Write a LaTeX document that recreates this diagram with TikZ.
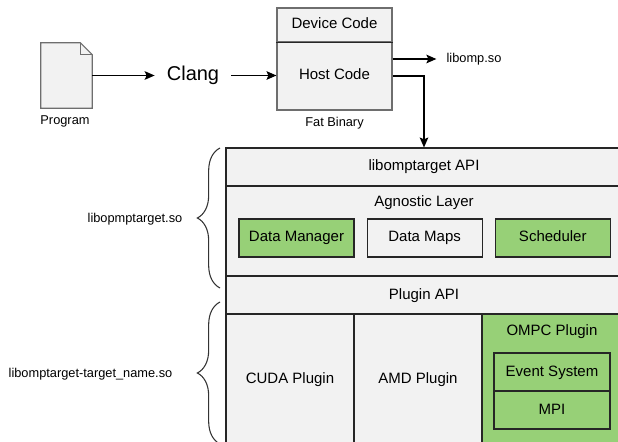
\documentclass[tikz,border=0pt]{standalone}
\usepackage{fontspec}
\setmainfont{Liberation Sans}
\usetikzlibrary{positioning,arrows.meta,decorations.pathreplacing}
\definecolor{boxgray}{HTML}{F2F2F2}
\definecolor{ompcgreen}{HTML}{97D077}
\definecolor{edgegray}{HTML}{6E6E6E}
\begin{document}
\begin{tikzpicture}[x=0.75pt,y=-0.75pt,
  box/.style={draw=black!85,line width=0.85pt,fill=boxgray,inner sep=0pt,text height=8.2pt,text depth=2.2pt,font=\fontsize{11.25}{13}\selectfont},
  layer/.style={box,minimum width=297pt,minimum height=28.5pt},
  part/.style={box,minimum width=86.25pt,minimum height=28.5pt},
  green/.style={fill=ompcgreen},
  small/.style={font=\fontsize{9.6}{11}\selectfont},
  arr/.style={-{Stealth[length=7.5pt,width=6.5pt,inset=1.5pt]},line width=0.9pt},
  brace/.style={decorate,decoration={brace,amplitude=17pt},draw=black!80,line width=0.8pt}]
\useasboundingbox (0,0) rectangle (618,442);

% compile step
\node[minimum width=38.25pt,minimum height=48.75pt] (prog) at (66.5,75.5) {};
\draw[edgegray,fill=boxgray,line width=0.8pt] (prog.south west) -- (prog.north west) -- ([xshift=-9pt]prog.north east) -- ([yshift=-9pt]prog.north east) -- (prog.south east) -- cycle;
\draw[edgegray,line width=0.8pt] ([xshift=-9pt]prog.north east) |- ([yshift=-9pt]prog.north east);
\node[small] (proglbl) at (65,121) {Program};
\node[font=\fontsize{15}{17}\selectfont,inner xsep=9pt] (clang) at (193,75.5) {Clang};
\node[box,draw=edgegray,minimum width=86.25pt,minimum height=25.5pt] (device) at (334.5,25) {Device Code};
\node[box,draw=edgegray,minimum width=86.25pt,minimum height=51pt] (host) at (334.5,76) {Host Code};
\draw[black!85,line width=0.85pt] (device.south west) -- (device.south east);
\node[small] (fatlbl) at (334.5,123) {Fat Binary};
\node[small,inner xsep=7.5pt] (libomp) at (474,59) {libomp.so};

% libomptarget
\node[layer] (api) at (424,167) {libomptarget API};
\node[layer,minimum height=67.5pt] (agnostic) at (424,231) {};
\node[font=\fontsize{11.25}{13}\selectfont] (agnlbl) at (424,203) {Agnostic Layer};
\node[part,green] (datamgr) at (296.5,238) {Data Manager};
\node[part,right=9pt of datamgr] (datamaps) {Data Maps};
\node[part,green,right=9pt of datamaps] (sched) {Scheduler};
\node[layer] (pluginapi) at (424,295) {Plugin API};

% plugins
\node[box,minimum width=96pt,minimum height=97.5pt] (cuda) at (290,379) {CUDA Plugin};
\node[box,minimum width=96pt,minimum height=97.5pt] (amd) at (418,379) {AMD Plugin};
\node[box,green,minimum width=105pt,minimum height=97.5pt] (ompc) at (552,379) {};
\node[font=\fontsize{11.25}{13}\selectfont] (ompclbl) at (552,332) {OMPC Plugin};
\node[part,green,minimum width=87pt] (events) at (552,372) {Event System};
\node[part,green,minimum width=87pt] (mpi) at (552,410) {MPI};

% arrows
\draw[arr] (prog.east) -- (clang.west);
\draw[arr] (clang.east) -- (clang.east -| host.west);
\draw[arr] ([yshift=12.75pt]host.east) -- (libomp.west);
\draw[arr] (host.east) -| (api.north);

% braces
\coordinate (lo1) at (220,288);
\coordinate (hi1) at (220,148);
\coordinate (lo2) at (220,444);
\coordinate (hi2) at (220,302);
\draw[brace] (lo1) -- (hi1);
\draw[brace] (lo2) -- (hi2);
\node[small] (solib) at (135,219) {libopmptarget.so};
\node[small] (targetlib) at (90.5,374) {libomptarget-target\_name.so};
\end{tikzpicture}
\end{document}
